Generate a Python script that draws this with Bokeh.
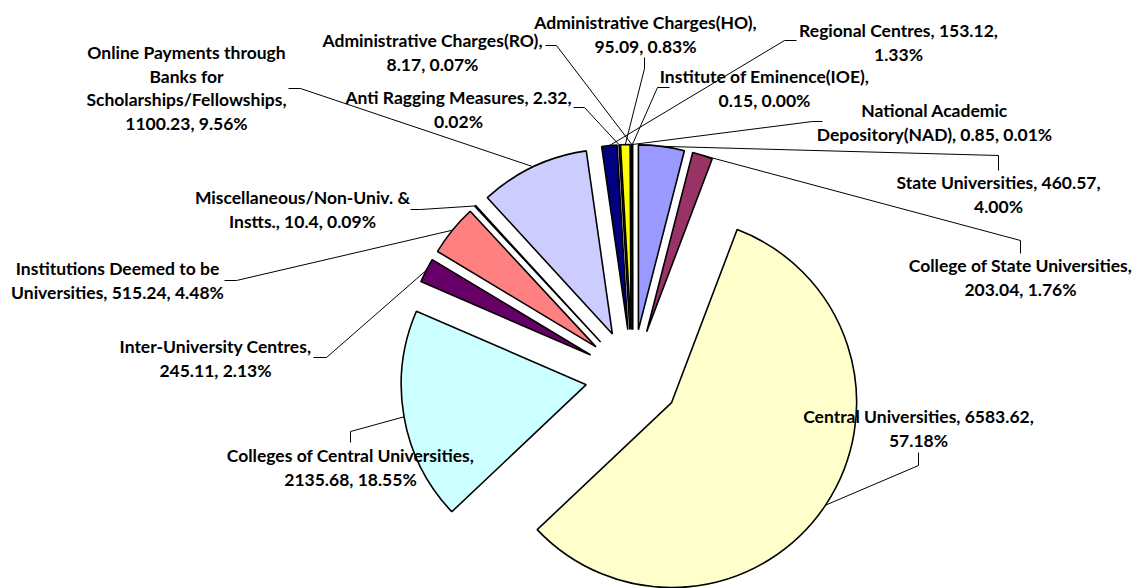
import math
from bokeh.plotting import figure
from bokeh.models import Range1d, ColumnDataSource
from bokeh.core.properties import value
from bokeh.embed import file_html
from bokeh.resources import INLINE

# ---------------- data (clockwise from 12 o'clock) ----------------
categories = [
    "State Universities",
    "College of State Universities",
    "Central Universities",
    "Colleges of Central Universities",
    "Inter-University Centres",
    "Institutions Deemed to be Universities",
    "Miscellaneous/Non-Univ. & Instts.",
    "Online Payments through Banks for Scholarships/Fellowships",
    "Regional Centres",
    "Anti Ragging Measures",
    "Administrative Charges(HO)",
    "Administrative Charges(RO)",
    "Institute of Eminence(IOE)",
    "National Academic Depository(NAD)",
]
values = [460.57, 203.04, 6583.62, 2135.68, 245.11, 515.24, 10.4,
          1100.23, 153.12, 2.32, 95.09, 8.17, 0.15, 0.85]
colors = ["#9999FF", "#993366", "#FFFFCC", "#CCFFFF", "#660066", "#FF8080",
          "#0066CC", "#CCCCFF", "#000080", "#FF00FF", "#FFFF00", "#00FFFF",
          "#800080", "#800000"]

# ---------------- layout (picture pixel coordinates) ----------------
words_per_line = [[3, 1], [4, 2], [3, 1], [4, 2], [2, 2], [4, 3], [2, 3],
                  [3, 2, 1, 2], [3, 1], [4, 1], [2, 2], [2, 2], [3, 2], [2, 3]]
label_cx = [998, 1020, 918, 350, 215, 117, 302, 186, 898, 458, 645, 432, 764, 934]
label_y0 = [182, 265, 416, 455, 346, 268, 197, 52, 30, 97, 22, 40, 76, 110]
leader_elbow = [(998, 155), (1020, 240), (918, 465), (350, 431), (326, 357),
                (236, 280), (420, 209), (300, 88), (784, 40), (584, 107),
                (644, 68), (556, 45), (657, 87), (812, 121)]
leader_end = [(998, 170), (1020, 253), (918, 452), (350, 442), (313, 357),
              (224, 280), (410, 209), (288, 88), (796, 40), (573, 107),
              (644, 57), (545, 45), (669, 87), (822, 121)]
LINE_SPACING = 23.5
CX, CY = 632, 376      # pie centre
RADIUS = 185
EXPLODE = 47

W, H = 1133, 588


def fy(y):
    return H - y


p = figure(width=W, height=H, x_range=Range1d(0, W), y_range=Range1d(0, H),
           output_backend="svg", toolbar_location=None, min_border=0,
           x_axis_location=None, y_axis_location=None)
p.grid.visible = False
p.outline_line_color = None
p.background_fill_color = "white"

total = sum(values)
cum = 0.0
wx, wy, sa, ea, mids = [], [], [], [], []
for v in values:
    a1 = cum / total * 2 * math.pi
    cum += v
    a2 = cum / total * 2 * math.pi
    am = (a1 + a2) / 2
    cx = CX + EXPLODE * math.sin(am)
    cy = fy(CY) + EXPLODE * math.cos(am)
    wx.append(cx)
    wy.append(cy)
    sa.append(math.pi / 2 - a2)
    ea.append(math.pi / 2 - a1)
    mids.append((cx + RADIUS * math.sin(am), cy + RADIUS * math.cos(am)))

src = ColumnDataSource(dict(x=wx, y=wy, sa=sa, ea=ea, color=colors))
p.wedge(x="x", y="y", radius=RADIUS, start_angle="sa", end_angle="ea",
        fill_color="color", line_color="black", line_width=1.6, source=src)

xs, ys = [], []
for i in range(len(values)):
    mx, my = mids[i]
    ex, ey = leader_elbow[i]
    lx, ly = leader_end[i]
    xs.append([mx, ex, lx])
    ys.append([my, fy(ey), fy(ly)])
p.multi_line(xs, ys, line_color="black", line_width=1)

tx, ty, tt = [], [], []
for i, (c, v) in enumerate(zip(categories, values)):
    pct = v / total * 100
    words = f"{c}, {v}, {pct:.2f}%".split(" ")
    k = 0
    for j, n in enumerate(words_per_line[i]):
        tt.append(" ".join(words[k:k + n]))
        k += n
        tx.append(label_cx[i])
        ty.append(fy(label_y0[i] + j * LINE_SPACING))

p.text(x=tx, y=ty, text=tt, text_align="center", text_baseline="middle",
       text_font=value("Lato"), text_font_style="bold", text_font_size="17.5px",
       text_color="black")

open("out.html", "w").write(file_html(p, INLINE))
